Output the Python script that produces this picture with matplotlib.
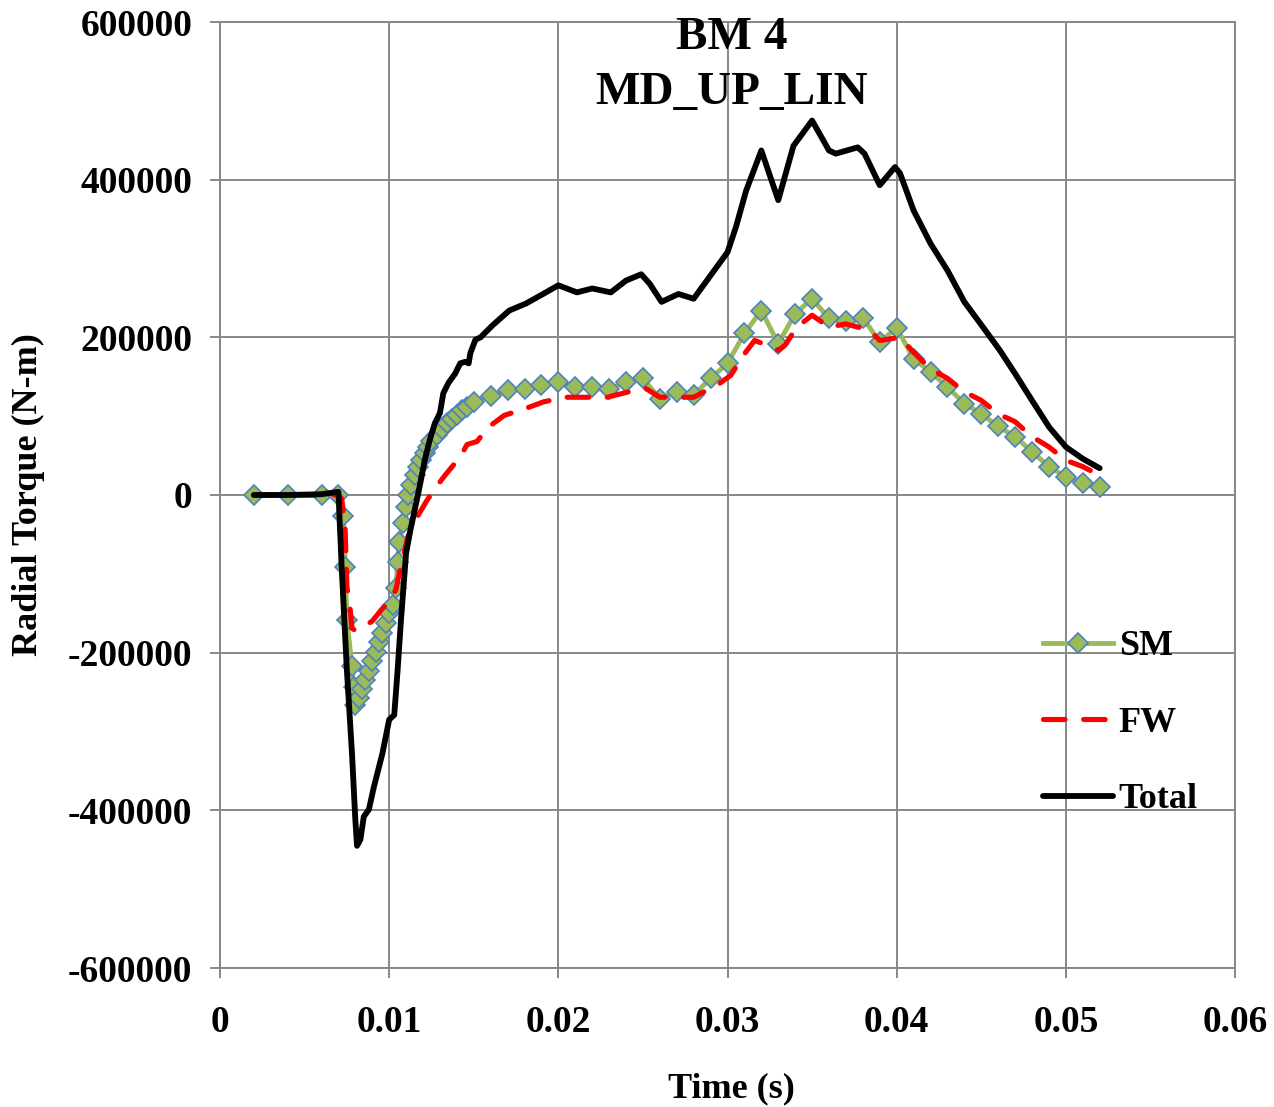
import numpy as np
import matplotlib
matplotlib.use("Agg")
import matplotlib.pyplot as plt

plt.rcParams['font.family'] = ['Liberation Serif', 'DejaVu Serif']
plt.rcParams['font.weight'] = 'bold'

# SM (markers)
sm_t = [0.002, 0.004, 0.006, 0.007, 0.0073, 0.0074, 0.0075, 0.0078, 0.0079, 0.0080,
        0.0082, 0.0084, 0.0086, 0.0088, 0.0090, 0.0092, 0.0094, 0.0096, 0.0098, 0.0100,
        0.0102, 0.0104, 0.0105, 0.0106, 0.0108, 0.0110, 0.0111, 0.0113, 0.0115, 0.0117,
        0.0119, 0.0121, 0.0123, 0.0125, 0.0128, 0.0131, 0.0134, 0.0137, 0.0140, 0.0143,
        0.0146, 0.0150, 0.016, 0.017, 0.018, 0.019, 0.020, 0.021, 0.022, 0.023,
        0.024, 0.025, 0.026, 0.027, 0.028, 0.029, 0.030, 0.031, 0.032, 0.033,
        0.034, 0.035, 0.036, 0.037, 0.038, 0.039, 0.040, 0.041, 0.042, 0.043,
        0.044, 0.045, 0.046, 0.047, 0.048, 0.049, 0.050, 0.051, 0.052]
sm_v = [0, 0, 0, 0, -27000, -91000, -158000, -217000, -243000, -266000,
        -258000, -246000, -235000, -223000, -211000, -199000, -187000, -175000, -163000, -150000,
        -140000, -118000, -85000, -59000, -36000, -15000, 0, 13000, 25000, 35000,
        45000, 53000, 61000, 68000, 76000, 84000, 91000, 97000, 102000, 108000,
        112000, 118000, 126000, 133000, 135000, 139000, 143000, 137000, 137000, 135000,
        143000, 148000, 122000, 131000, 127000, 148000, 167000, 205000, 234000, 192000,
        230000, 249000, 224000, 221000, 225000, 194000, 212000, 173000, 156000, 137000,
        116000, 103000, 87000, 74000, 55000, 36000, 23000, 15000, 10500]

# FW (dashed)
fw_t = [0.002, 0.006, 0.007, 0.0072, 0.0074, 0.0075, 0.0077, 0.0078, 0.0080, 0.0084,
        0.0090, 0.0096, 0.0100, 0.0104, 0.0106, 0.0109, 0.0111, 0.0116, 0.0122, 0.0127,
        0.0133, 0.0138, 0.0143, 0.0146, 0.0152, 0.0158, 0.0168, 0.0181, 0.0191, 0.0204,
        0.0215, 0.0229, 0.0239, 0.0251, 0.026, 0.0272, 0.028, 0.0295, 0.0302, 0.031,
        0.0316, 0.0326, 0.033, 0.0334, 0.0341, 0.035, 0.036, 0.037, 0.0384, 0.039,
        0.0402, 0.041, 0.042, 0.043, 0.044, 0.045, 0.046, 0.047, 0.048, 0.049,
        0.050, 0.051, 0.052]
fw_v = [0, 0, 0, -5000, -44000, -116000, -146000, -169000, -172000, -168000,
        -160000, -144000, -135000, -120000, -99000, -72000, -53000, -30000, -8000, 8000,
        25000, 38000, 52000, 64000, 68000, 85000, 101000, 110000, 118000, 124000,
        124000, 124000, 129500, 136000, 124000, 124000, 124000, 141000, 152000, 179000,
        196000, 188000, 183500, 190000, 213000, 228000, 213000, 217000, 209000, 196000,
        200000, 181000, 160000, 148000, 131000, 120000, 103000, 93000, 74000, 61000,
        44000, 36000, 25000]

# Total (solid black)
tot_t = [0.002, 0.004, 0.006, 0.0070, 0.0072, 0.0075, 0.0078, 0.0080, 0.0081, 0.0083,
         0.0085, 0.0088, 0.0091, 0.0096, 0.0100, 0.0103, 0.0105, 0.0107, 0.0110, 0.01125,
         0.01145, 0.0118, 0.0121, 0.0124, 0.0127, 0.0130, 0.0132, 0.0135, 0.0139, 0.0142,
         0.0145, 0.0147, 0.0148, 0.0151, 0.0154, 0.0161, 0.0171, 0.0181, 0.0191, 0.0200,
         0.0211, 0.0220, 0.0231, 0.0240, 0.0249, 0.0254, 0.0261, 0.0271, 0.0280, 0.0290,
         0.0300, 0.0305, 0.0311, 0.0320, 0.0330, 0.0339, 0.0350, 0.0360, 0.0364, 0.0377,
         0.0381, 0.0390, 0.0399, 0.0402, 0.0410, 0.0420, 0.0430, 0.0440, 0.0451, 0.0461,
         0.0470, 0.0480, 0.0490, 0.0500, 0.0510, 0.0520]
tot_v = [0, 0, 1000, 4000, -95000, -222000, -327000, -412000, -445000, -437000,
         -408000, -399000, -370000, -328000, -285000, -279000, -222000, -158000, -74000, -45000,
         -25000, 10500, 44000, 70000, 91000, 104000, 129000, 142000, 154000, 167000,
         169000, 167000, 180000, 197000, 200000, 215000, 234000, 243000, 255000, 266000,
         257000, 262000, 257000, 272000, 280000, 268000, 245000, 255000, 249000, 278500,
         308000, 340000, 386000, 437000, 374000, 443000, 475000, 437000, 433000, 441000,
         433000, 393000, 416000, 408000, 361000, 319000, 285000, 245000, 213000, 183500,
         154000, 120000, 86500, 61000, 46000, 34000]

x_ticks = [0, 0.01, 0.02, 0.03, 0.04, 0.05, 0.06]
x_labels = ["0", "0.01", "0.02", "0.03", "0.04", "0.05", "0.06"]
y_ticks = [-600000, -400000, -200000, 0, 200000, 400000, 600000]
y_labels = ["-600000", "-400000", "-200000", "0", "200000", "400000", "600000"]

fig = plt.figure(figsize=(12.74, 11.07), dpi=100)
ax = fig.add_axes([220/1274, 1-968/1107, 1015/1274, 946/1107])

gray = "#878787"
ax.plot(sm_t, sm_v, color="#9BBB59", lw=3.5, marker="D", ms=10.5,
        markerfacecolor="#9BBB59", markeredgecolor="#4F81BD", markeredgewidth=1.2,
        label="SM", zorder=3)
ax.plot(fw_t, fw_v, color="#FF0000", lw=3.7, dashes=(4.2, 3.6),
        dash_capstyle="round", label="FW", zorder=4)
ax.plot(tot_t, tot_v, color="black", lw=4.2, solid_joinstyle="round",
        solid_capstyle="round", label="Total", zorder=5)

ax.set_xlim(0, 0.06)
ax.set_ylim(-600000, 600000)
ax.set_xticks(x_ticks)
ax.set_xticklabels(x_labels)
ax.set_yticks(y_ticks)
ax.set_yticklabels(y_labels)
ax.grid(True, color=gray, lw=1.4)
ax.set_axisbelow(True)
for s in ax.spines.values():
    s.set_color(gray)
    s.set_linewidth(1.4)
ax.tick_params(axis="both", direction="out", length=7, width=1.4, color=gray,
               labelsize=27)
ax.tick_params(axis="y", pad=13)
ax.tick_params(axis="x", pad=20)

ax.set_xlabel("Time (s)", fontsize=26, fontweight="bold")
ax.set_ylabel("Radial Torque (N-m)", fontsize=26, fontweight="bold")
ax.xaxis.set_label_coords(0.504, -0.110)
ax.yaxis.set_label_coords(-0.172, 0.5)

fig.text(732/1274, 1-17/1107, "BM 4\nMD_UP_LIN", ha="center", va="top",
         fontsize=34, fontweight="bold", linespacing=1.42)

leg = ax.legend(loc="upper left", bbox_to_anchor=(1043/1274, 1-630/1107),
                bbox_transform=fig.transFigure, frameon=False, fontsize=26,
                handlelength=1.95, handletextpad=0.15, labelspacing=1.2,
                borderpad=0, borderaxespad=0, markerscale=1.0)

fig.savefig("out.png", dpi=100)
